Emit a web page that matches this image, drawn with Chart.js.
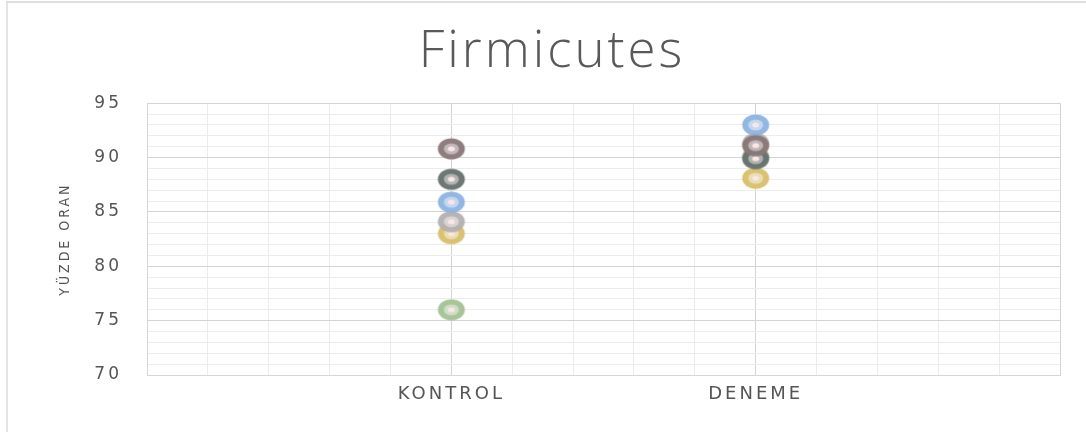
<!DOCTYPE html>
<html>
<head>
<meta charset="utf-8">
<script src="https://cdn.jsdelivr.net/npm/chart.js@4.4.1/dist/chart.umd.min.js"></script>
<style>
  body { margin: 0; background: #fff; }
  #frame { position: absolute; left: 6px; top: 1px; width: 1080px; height: 429px; border-top: 2px solid #dedede; border-left: 2px solid #e4e4e4; }
  #wrap { position: absolute; left: 0; top: 0; }
</style>
</head>
<body>
<div id="frame"></div>
<div id="wrap"><canvas id="firmicutes-chart" width="1086" height="434"></canvas></div>
<script>
// Firmicutes - yuzde oran, kontrol vs deneme
const categories = ["KONTROL", "DENEME"];
const kontrol = [90.8, 88.0, 85.9, 84.1, 83.0, 76.0];
const deneme = [91.1, 89.9, 93.0, 91.3, 88.1, 90.1];
const yTicks = [70, 75, 80, 85, 90, 95];

const seriesColors = ['#8a7777', '#66706f', '#8db3e2', '#b5b0b0', '#d8bf6c', '#a3c293'];


// excel style ring marker
function ringMarker(color) {
    const c = document.createElement('canvas');
    c.width = 30;
    c.height = 24;
    const g = c.getContext('2d');
    g.globalAlpha = 0.95;
    g.beginPath();
    g.ellipse(15, 12, 13.5, 10.5, 0, 0, Math.PI * 2);
    g.fillStyle = color;
    g.fill();
    g.globalAlpha = 1;
    g.beginPath();
    g.ellipse(15, 12, 7.5, 5.5, 0, 0, Math.PI * 2);
    g.fillStyle = 'rgba(255,255,255,0.45)';
    g.fill();
    g.beginPath();
    g.ellipse(15, 12, 3.5, 2.5, 0, 0, Math.PI * 2);
    g.fillStyle = '#fbe6e6';
    g.fill();
    return c;
}

const datasets = seriesColors.map((color, i) => ({
    label: 'Seri ' + (i + 1),
    data: [
        { x: 1, y: kontrol[i] },
        { x: 2, y: deneme[i] }
    ],
    pointStyle: ringMarker(color),
    backgroundColor: color,
    borderColor: color
}));


const spacing = {
    id: 'spacing',
    beforeDraw(chart) {
        chart.ctx.letterSpacing = '3px';
    }
};

const isWhole = v => Math.abs(v - Math.round(v)) < 1e-6;

let chart = new Chart(document.getElementById('firmicutes-chart'), {
    type: 'scatter',
    data: { datasets: datasets },
    plugins: [spacing],
    options: {
        responsive: false,
        animation: false,
        layout: {
            padding: { left: 44, right: 26, top: 0, bottom: 0 }
        },
        plugins: {
            legend: { display: false },
            tooltip: { enabled: false },
            title: {
                display: true,
                text: 'Firmicutes',
                color: '#595959',
                font: { family: 'Open Sans', size: 51, weight: 300 },
                padding: { top: 22, bottom: 20 }
            }
        },
        scales: {
            x: {
                type: 'linear',
                min: 0,
                max: 3,
                afterFit: s => { s.height = 59; },
                ticks: {
                    stepSize: 0.2,
                    autoSkip: false,
                    maxRotation: 0,
                    padding: 9,
                    color: '#555555',
                    font: { family: 'DejaVu Sans', size: 18 },
                    callback: v => {
                        const idx = Math.round(v) - 1;
                        return isWhole(v) && categories[idx] ? categories[idx] : '';
                    }
                },
                grid: {
                    drawTicks: false,
                    color: ctx => isWhole(ctx.tick.value) ? '#d4d4d4' : '#ececec'
                },
                border: { color: '#d6d6d6', width: 1 }
            },
            y: {
                min: 70,
                max: 95,
                afterFit: s => { s.width = 103; },
                ticks: {
                    stepSize: 1,
                    autoSkip: false,
                    padding: 25,
                    color: '#555555',
                    font: { family: 'DejaVu Sans', size: 17 },
                    callback: v => yTicks.includes(v) ? v : ''
                },
                grid: {
                    drawTicks: false,
                    color: ctx => ctx.tick.value % 5 === 0 ? '#d4d4d4' : '#ececec'
                },
                border: { color: '#d6d6d6', width: 1 },
                title: {
                    display: true,
                    text: 'YÜZDE ORAN',
                    color: '#555555',
                    font: { family: 'DejaVu Sans Condensed', size: 14 },
                    padding: { top: 13, bottom: 0 }
                }
            }
        }
    }
});
</script>
</body>
</html>
